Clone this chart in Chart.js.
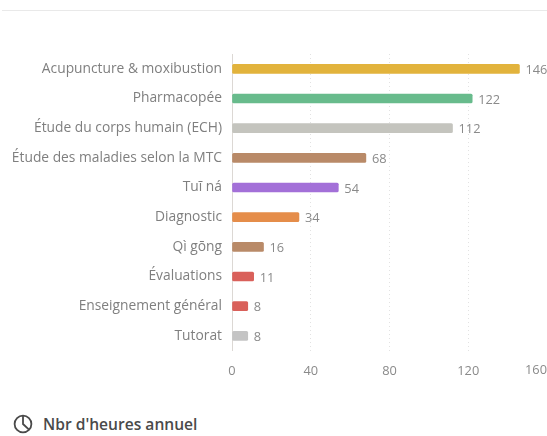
<!DOCTYPE html>
<html lang="fr">
<head>
<meta charset="utf-8">
<title>Nbr d'heures annuel</title>
<script src="https://cdn.jsdelivr.net/npm/chart.js@4"></script>
<style>
html,body{margin:0;padding:0;width:547px;height:436px;overflow:hidden;background:#fff}
#rule{position:absolute;left:2px;right:0;top:10px;height:1px;background:#e9e9e9}
#wrap{position:absolute;left:0;top:0;width:547px;height:392px}
#legend{position:absolute;left:13px;top:413px;display:flex;align-items:center;gap:10px;font:600 15.6px "Open Sans",sans-serif;color:#4a4a4a;white-space:nowrap}
</style>
</head>
<body>
<div id="rule"></div>
<div id="wrap"><canvas id="c"></canvas></div>
<div id="legend">
<svg width="20" height="20" viewBox="0 0 20 20" fill="none" stroke="#4a4a4a" stroke-width="1.8"><circle cx="10" cy="10" r="8.4"/><path d="M10 2v8l6 5.6"/></svg>
<span>Nbr d'heures annuel</span>
</div>
<script>
const categories = ["Acupuncture & moxibustion","Pharmacopée","Étude du corps humain (ECH)","Étude des maladies selon la MTC","Tuī ná","Diagnostic","Qì gōng","Évaluations","Enseignement général","Tutorat"];
const hours = [146,122,112,68,54,34,16,11,8,8];
const barColors = ["#e2b33c","#68bb8c","#c4c4be","#b98a68","#a370d8","#e58d4a","#b98a68","#d9605a","#d9605a","#c4c4c4"];
const xTicks = [0,40,80,120,160];
const FONT = '"Open Sans", sans-serif';

const valueLabels = {
  id:'valueLabels',
  afterDatasetsDraw(chart){
    const {ctx} = chart;
    ctx.save();
    ctx.font = '12.8px ' + FONT;
    ctx.fillStyle = '#8a8a8a';
    ctx.textAlign = 'left';
    ctx.textBaseline = 'middle';
    chart.getDatasetMeta(0).data.forEach((bar,i)=>{
      ctx.fillText(String(hours[i]), bar.x + 6, bar.y + 1.5);
    });
    // the last tick label stays inside the frame, right-aligned on its tick
    const last = xTicks[xTicks.length-1];
    const xs = chart.scales.x;
    ctx.textAlign = 'right';
    ctx.fillText(String(last), xs.getPixelForValue(last), xs.top + 20);
    ctx.restore();
  }
};

new Chart(document.getElementById('c'),{
  type:'bar',
  data:{labels:categories,datasets:[{data:hours,backgroundColor:barColors,barThickness:9,borderRadius:1.5,borderSkipped:false}]},
  plugins:[valueLabels],
  options:{
    indexAxis:'y',
    responsive:true,
    maintainAspectRatio:false,
    animation:false,
    layout:{padding:{top:54,right:0,bottom:0,left:0}},
    plugins:{legend:{display:false},tooltip:{enabled:false}},
    scales:{
      x:{
        min:0,max:160,
        afterBuildTicks(a){a.ticks = xTicks.map(v=>({value:v}));},
        afterFit(a){a.paddingRight = 0; a.paddingLeft = 0;},
        grid:{drawTicks:false,color:'#e2e2e2',lineWidth:1},
        border:{display:false,dash:[1,3]},
        ticks:{color:'#8a8a8a',font:{family:FONT,size:12.8},padding:13,maxRotation:0,autoSkip:false,
          callback(v){return v===xTicks[xTicks.length-1] ? '' : String(v);}}
      },
      y:{
        afterFit(a){a.width = 232;},
        grid:{display:false},
        border:{display:true,color:'#dcd8d4',width:1},
        ticks:{color:'#7f7f7f',font:{family:FONT,size:13.8},padding:2,autoSkip:false}
      }
    }
  }
});
</script>
</body>
</html>
